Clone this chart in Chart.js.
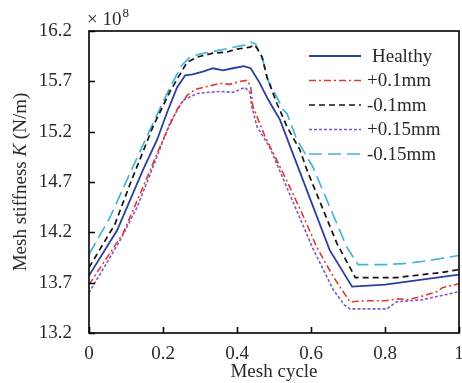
<!DOCTYPE html>
<html><head><meta charset="utf-8">
<script src="https://cdn.jsdelivr.net/npm/chart.js@4/dist/chart.umd.min.js"></script>
<style>html,body{margin:0;padding:0;background:#fff}#c{display:block}</style>
</head><body>
<canvas id="c" width="462" height="383"></canvas>
<script>
// ---- data ----
const seriesNames = ['Healthy', '+0.1mm', '-0.1mm', '+0.15mm', '-0.15mm'];

const healthyX = [0, 0.076, 0.111, 0.146, 0.184, 0.211, 0.238, 0.26, 0.28, 0.31, 0.335, 0.362, 0.389, 0.418, 0.437, 0.462, 0.481, 0.495, 0.516, 0.6, 0.651, 0.711, 0.8, 0.9, 1];
const healthyY = [13.77, 14.22, 14.52, 14.82, 15.12, 15.39, 15.64, 15.76, 15.77, 15.80, 15.83, 15.81, 15.83, 15.85, 15.83, 15.68, 15.54, 15.45, 15.32, 14.51, 14.02, 13.66, 13.68, 13.73, 13.78];

const plus01X = [0, 0.045, 0.092, 0.146, 0.2, 0.238, 0.265, 0.287, 0.32, 0.355, 0.38, 0.41, 0.428, 0.437, 0.443, 0.476, 0.535, 0.578, 0.616, 0.66, 0.705, 0.75, 0.8, 0.835, 0.86, 0.895, 0.94, 0.955, 1];
const plus01Y = [13.68, 13.93, 14.19, 14.65, 15.12, 15.42, 15.56, 15.62, 15.65, 15.68, 15.67, 15.70, 15.71, 15.64, 15.45, 15.15, 14.71, 14.37, 14.05, 13.76, 13.51, 13.52, 13.52, 13.54, 13.53, 13.56, 13.61, 13.65, 13.69];

const minus01X = [0, 0.07, 0.111, 0.173, 0.219, 0.265, 0.292, 0.335, 0.37, 0.4, 0.435, 0.447, 0.454, 0.468, 0.481, 0.508, 0.535, 0.57, 0.589, 0.67, 0.72, 0.83, 0.95, 1];
const minus01Y = [13.85, 14.28, 14.68, 15.25, 15.60, 15.89, 15.94, 15.98, 15.99, 16.02, 16.04, 16.06, 16.03, 15.94, 15.74, 15.48, 15.25, 15.02, 14.82, 14.09, 13.75, 13.75, 13.80, 13.83];

const plus015X = [0, 0.084, 0.13, 0.173, 0.219, 0.254, 0.281, 0.292, 0.354, 0.389, 0.422, 0.435, 0.44, 0.454, 0.489, 0.605, 0.66, 0.69, 0.705, 0.805, 0.832, 0.9, 1];
const plus015Y = [13.60, 14.12, 14.45, 14.85, 15.29, 15.51, 15.56, 15.58, 15.60, 15.59, 15.64, 15.59, 15.45, 15.25, 15.04, 14.04, 13.63, 13.48, 13.44, 13.44, 13.51, 13.53, 13.61];

const minus015X = [0, 0.057, 0.111, 0.165, 0.219, 0.251, 0.273, 0.3, 0.327, 0.38, 0.42, 0.437, 0.45, 0.457, 0.47, 0.484, 0.508, 0.524, 0.535, 0.562, 0.605, 0.697, 0.727, 0.8, 0.85, 0.9, 0.95, 1];
const minus015Y = [13.98, 14.35, 14.79, 15.22, 15.64, 15.86, 15.94, 15.97, 15.99, 16.03, 16.06, 16.09, 16.07, 16.01, 15.91, 15.71, 15.54, 15.42, 15.38, 15.12, 14.85, 14.05, 13.88, 13.88, 13.89, 13.91, 13.94, 13.97];

const xTicks = [0, 0.2, 0.4, 0.6, 0.8, 1];
const xTickLabels = ['0', '0.2', '0.4', '0.6', '0.8', '1'];
const yTicks = [13.2, 13.7, 14.2, 14.7, 15.2, 15.7, 16.2];
const yTickLabels = ['13.2', '13.7', '14.2', '14.7', '15.2', '15.7', '16.2'];

// ---- styling ----
const FONT = '"Liberation Serif", "Times New Roman", serif';
const FS = 19;
const TEXT = '#2a2a2a';
const styles = [
  {color: '#2b3f9e', dash: [], width: 1.8},
  {color: '#e0392e', dash: [7, 3, 2, 3], width: 1.6},
  {color: '#151515', dash: [6, 4], width: 1.7},
  {color: '#8257c4', dash: [3, 2], width: 1.6},
  {color: '#45b2d6', dash: [13, 6], width: 1.7}
];
const xs = [healthyX, plus01X, minus01X, plus015X, minus015X];
const ys = [healthyY, plus01Y, minus01Y, plus015Y, minus015Y];

const datasets = seriesNames.map((name, i) => ({
  label: name,
  data: xs[i].map((x, j) => ({x: x, y: ys[i][j]})),
  borderColor: styles[i].color,
  backgroundColor: styles[i].color,
  borderDash: styles[i].dash,
  borderWidth: styles[i].width,
  pointRadius: 0,
  tension: 0,
  fill: false
}));

const decor = {
  id: 'decor',
  afterDraw(chart) {
    const ctx = chart.ctx;
    const a = chart.chartArea;
    const xsc = chart.scales.x, ysc = chart.scales.y;
    ctx.save();
    // frame
    ctx.strokeStyle = '#000';
    ctx.lineWidth = 1.6;
    ctx.setLineDash([]);
    ctx.strokeRect(a.left, a.top, a.right - a.left, a.bottom - a.top);
    // inward ticks
    ctx.beginPath();
    yTicks.forEach(v => {
      const p = Math.round(ysc.getPixelForValue(v)) + 0.5;
      ctx.moveTo(a.left, p); ctx.lineTo(a.left + 6, p);
    });
    xTicks.forEach(v => {
      const p = Math.round(xsc.getPixelForValue(v)) + 0.5;
      ctx.moveTo(p, a.bottom); ctx.lineTo(p, a.bottom - 6);
    });
    ctx.stroke();

    // multiplier
    ctx.fillStyle = TEXT;
    ctx.textBaseline = 'alphabetic';
    ctx.textAlign = 'left';
    ctx.font = FS + 'px ' + FONT;
    ctx.fillText('\u00d7 10', 87, 25);
    const wm = ctx.measureText('\u00d7 10').width;
    ctx.font = '13px ' + FONT;
    ctx.fillText('8', 87 + wm + 1, 17);

    // x title
    ctx.font = FS + 'px ' + FONT;
    ctx.textAlign = 'center';
    ctx.fillText('Mesh cycle', (a.left + a.right) / 2, 377);

    // y title with italic K
    ctx.save();
    ctx.translate(26, (a.top + a.bottom) / 2);
    ctx.rotate(-Math.PI / 2);
    const p1 = 'Mesh stiffness ', p2 = 'K', p3 = ' (N/m)';
    ctx.font = FS + 'px ' + FONT;
    const w1 = ctx.measureText(p1).width, w3 = ctx.measureText(p3).width;
    ctx.font = 'italic ' + FS + 'px ' + FONT;
    const w2 = ctx.measureText(p2).width;
    let x0 = -(w1 + w2 + w3) / 2;
    ctx.textAlign = 'left';
    ctx.font = FS + 'px ' + FONT;
    ctx.fillText(p1, x0, 0);
    ctx.font = 'italic ' + FS + 'px ' + FONT;
    ctx.fillText(p2, x0 + w1, 0);
    ctx.font = FS + 'px ' + FONT;
    ctx.fillText(p3, x0 + w1 + w2, 0);
    ctx.restore();

    // legend
    const rowY = [56, 80.5, 105, 129.5, 154];
    const textX = [372, 367, 367, 367, 367];
    seriesNames.forEach((name, i) => {
      ctx.strokeStyle = styles[i].color;
      ctx.lineWidth = styles[i].width;
      ctx.setLineDash(styles[i].dash);
      ctx.beginPath();
      ctx.moveTo(309, rowY[i]); ctx.lineTo(361, rowY[i]);
      ctx.stroke();
      ctx.setLineDash([]);
      ctx.fillStyle = TEXT;
      ctx.font = FS + 'px ' + FONT;
      ctx.textAlign = 'left';
      ctx.textBaseline = 'middle';
      ctx.fillText(name, textX[i], rowY[i] + 1);
    });
    ctx.restore();
  }
};

new Chart(document.getElementById('c'), {
  type: 'line',
  data: {datasets: datasets},
  options: {
    responsive: false,
    animation: false,
    devicePixelRatio: 1,
    layout: {padding: {top: 31, right: 3, left: 0, bottom: 0}},
    plugins: {legend: {display: false}, tooltip: {enabled: false}, title: {display: false}},
    scales: {
      x: {
        type: 'linear', min: 0, max: 1,
        afterBuildTicks: s => { s.ticks = xTicks.map(v => ({value: v})); },
        afterFit: s => { s.height = 50; s.paddingLeft = 0; s.paddingRight = 0; },
        grid: {display: false, drawTicks: false},
        border: {display: false},
        ticks: {
          callback: (v, i) => xTickLabels[i],
          font: {family: FONT, size: FS}, color: TEXT,
          padding: 10, maxRotation: 0, autoSkip: false
        }
      },
      y: {
        type: 'linear', min: 13.2, max: 16.2,
        afterBuildTicks: s => { s.ticks = yTicks.map(v => ({value: v})); },
        afterFit: s => { s.width = 89; s.paddingTop = 0; s.paddingBottom = 0; },
        grid: {display: false, drawTicks: false},
        border: {display: false},
        ticks: {
          callback: (v, i) => yTickLabels[i],
          font: {family: FONT, size: FS}, color: TEXT,
          padding: 17, autoSkip: false
        }
      }
    }
  },
  plugins: [decor]
});
</script>
</body></html>
